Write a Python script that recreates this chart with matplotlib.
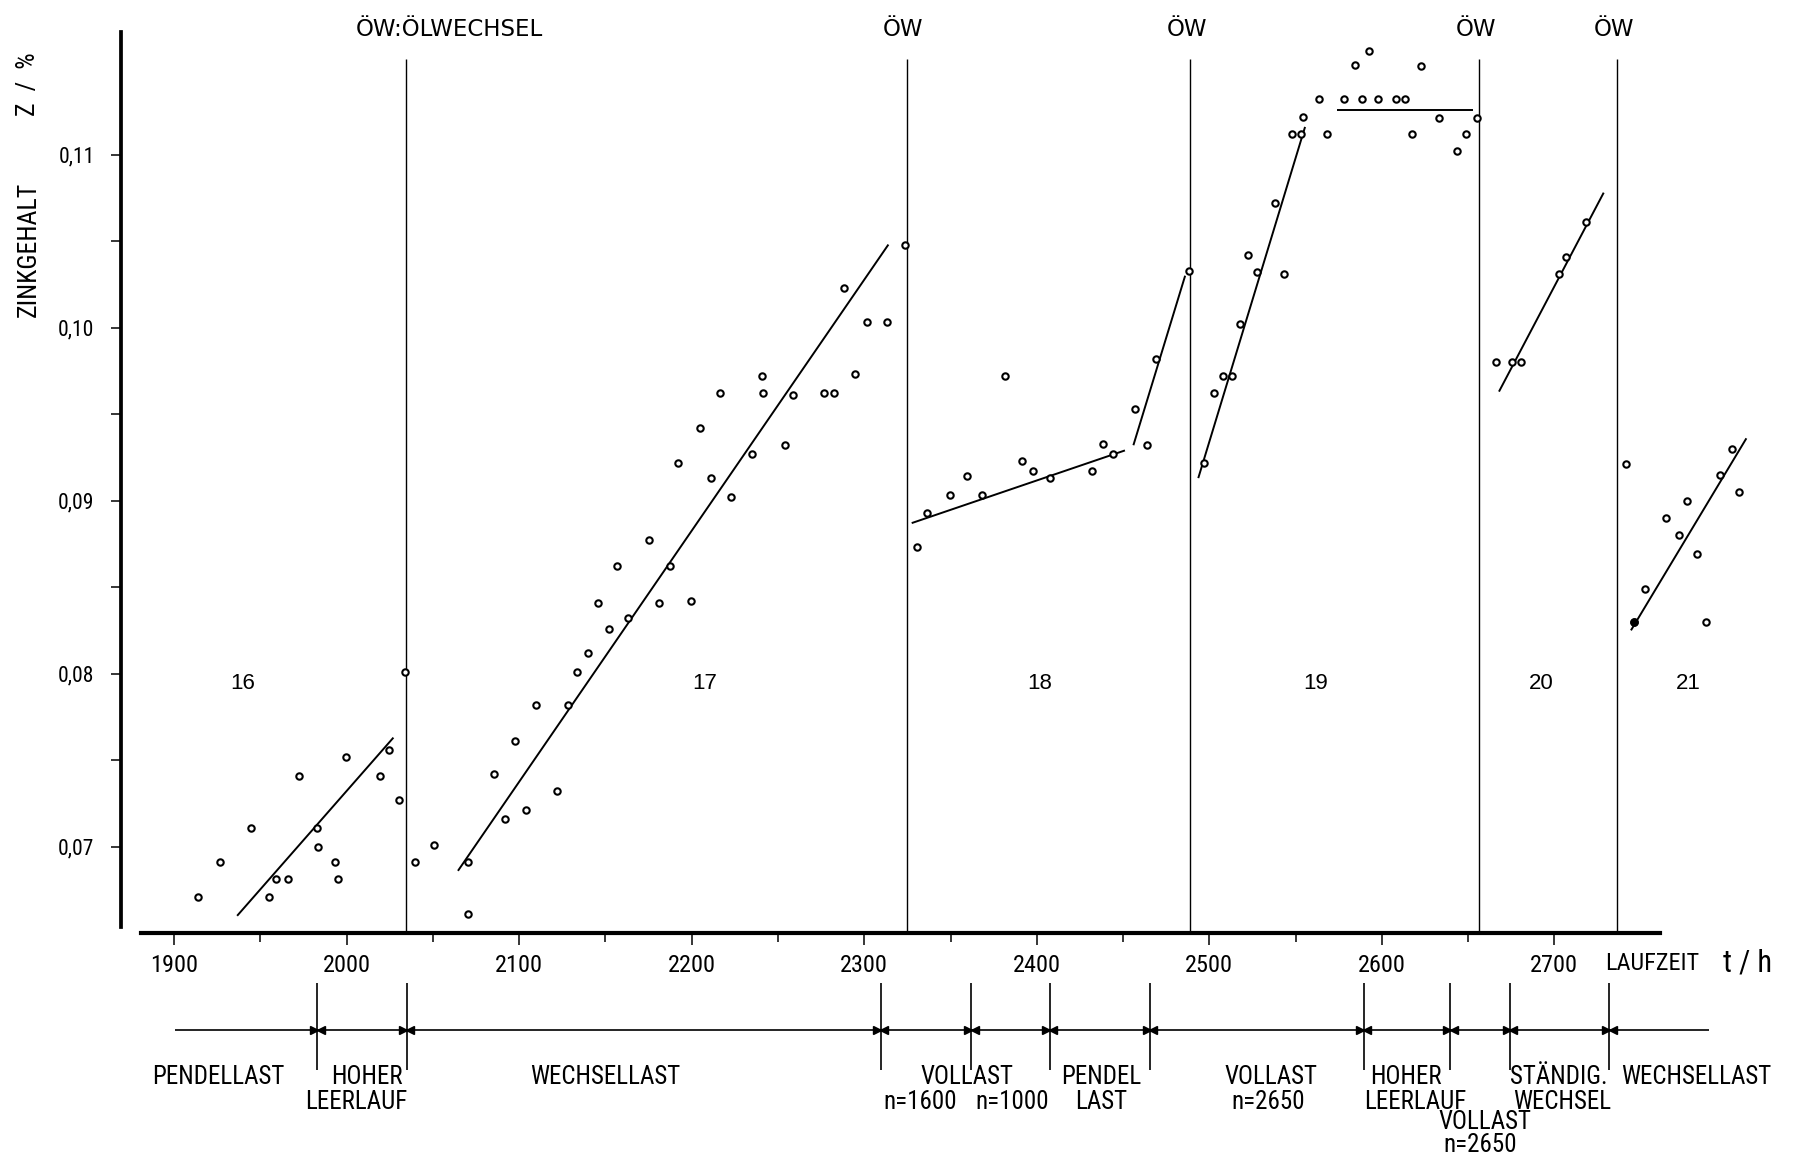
import matplotlib
matplotlib.use("Agg")
import matplotlib.pyplot as plt
from matplotlib import font_manager as fm
import numpy as np

# ---------------- data ----------------
# Laufzeit t / h and Zinkgehalt Z / % for the oil fillings 16 ... 21
t16 = [1913.8, 1926.5, 1944.4, 1954.8, 1959.0, 1966.2, 1972.4, 1982.8, 1983.4,
       1993.4, 1994.9, 1999.7, 2019.2, 2024.8, 2030.6, 2034.0]
z16 = [0.0671, 0.0691, 0.0711, 0.0671, 0.0681, 0.0681, 0.0741, 0.0711, 0.0700,
       0.0691, 0.0681, 0.0752, 0.0741, 0.0756, 0.0727, 0.0801]

t17 = [2039.8, 2050.8, 2070.2, 2070.4, 2085.6, 2092.0, 2097.4, 2104.1, 2109.7,
       2121.9, 2128.1, 2133.3, 2139.9, 2145.9, 2151.9, 2156.7, 2162.9, 2175.2,
       2180.8, 2187.2, 2192.2, 2199.4, 2205.0, 2211.2, 2216.4, 2222.6, 2235.1,
       2240.9, 2241.1, 2253.9, 2258.5, 2276.7, 2282.3, 2288.5, 2294.9, 2301.8,
       2313.0, 2323.6]
z17 = [0.0691, 0.0701, 0.0691, 0.0661, 0.0742, 0.0716, 0.0761, 0.0721, 0.0782,
       0.0732, 0.0782, 0.0801, 0.0812, 0.0841, 0.0826, 0.0862, 0.0832, 0.0877,
       0.0841, 0.0862, 0.0922, 0.0842, 0.0942, 0.0913, 0.0962, 0.0902, 0.0927,
       0.0972, 0.0962, 0.0932, 0.0961, 0.0962, 0.0962, 0.1023, 0.0973, 0.1003,
       0.1003, 0.1048]

t18 = [2330.4, 2336.5, 2349.5, 2359.8, 2368.1, 2381.8, 2391.6, 2398.0, 2407.8,
       2432.2, 2438.4, 2444.4, 2457.1, 2463.6, 2469.0, 2488.0]
z18 = [0.0873, 0.0893, 0.0903, 0.0914, 0.0903, 0.0972, 0.0923, 0.0917, 0.0913,
       0.0917, 0.0933, 0.0927, 0.0953, 0.0932, 0.0982, 0.1033]

t19 = [2496.9, 2502.7, 2507.7, 2513.0, 2517.8, 2522.6, 2527.5, 2537.9, 2543.1,
       2547.9, 2552.9, 2554.1, 2563.6, 2568.0, 2578.1, 2584.3, 2588.3, 2592.4,
       2597.8, 2608.0, 2613.4, 2617.5, 2622.5, 2632.9, 2643.4, 2648.8, 2655.0]
z19 = [0.0922, 0.0962, 0.0972, 0.0972, 0.1002, 0.1042, 0.1032, 0.1072, 0.1031,
       0.1112, 0.1112, 0.1122, 0.1132, 0.1112, 0.1132, 0.1152, 0.1132, 0.1160,
       0.1132, 0.1132, 0.1132, 0.1112, 0.1151, 0.1121, 0.1102, 0.1112, 0.1121]

t20 = [2666.2, 2675.6, 2680.7, 2702.7, 2706.6, 2718.1]
z20 = [0.0980, 0.0980, 0.0980, 0.1031, 0.1041, 0.1061]

t21 = [2741.4, 2746.4, 2752.3, 2764.5, 2772.1, 2776.9, 2782.7, 2788.1, 2796.2,
       2803.0, 2807.0]
z21 = [0.0921, 0.0830, 0.0849, 0.0890, 0.0880, 0.0900, 0.0869, 0.0830, 0.0915,
       0.0930, 0.0905]
# the one point drawn filled in the original (start of filling 21)
t21_filled = [2746.4]
z21_filled = [0.0830]

# hand-drawn trend lines (end points)
fit_t = [[1936.5, 2027.1], [2064.5, 2314.0], [2327.5, 2451.1], [2456.0, 2486.0],
         [2493.6, 2555.5], [2573.8, 2652.6], [2667.9, 2728.6], [2744.4, 2811.3]]
fit_z = [[0.0660, 0.0763], [0.0686, 0.1048], [0.0887, 0.0929], [0.0932, 0.1030],
         [0.0913, 0.1116], [0.1126, 0.1126], [0.0963, 0.1078], [0.0825, 0.0936]]

# oil changes (ÖW)
oew_t = [2034.6, 2324.5, 2489.0, 2656.5, 2736.4]

# filling numbers
fill_names = ["16", "17", "18", "19", "20", "21"]
fill_t = [1940.0, 2207.5, 2401.5, 2561.7, 2692.5, 2777.8]

# load phases (boundaries in h)
phase_bounds = [1983.0, 2034.8, 2309.6, 2362.0, 2407.5, 2465.6, 2589.4,
                2639.7, 2674.3, 2731.7]
phase_start, phase_end = 1900.6, 2789.8
phase_texts = ["PENDELLAST", "HOHER", "LEERLAUF", "WECHSELLAST", "VOLLAST",
               "n=1600", "n=1000", "PENDEL", "LAST", "VOLLAST", "n=2650",
               "HOHER", "LEERLAUF", "VOLLAST", "n=2650", "STÄNDIG.", "WECHSEL",
               "WECHSELLAST"]
phase_text_t = [1925.6, 2011.5, 2005.8, 2150.0, 2359.4, 2332.3, 2385.6, 2437.3,
                2437.1, 2535.5, 2534.1, 2613.9, 2619.3, 2659.8, 2657.2, 2702.6,
                2704.4, 2782.1]
phase_text_row = [1, 1, 2, 1, 1, 2, 2, 1, 2, 1, 2, 1, 2, 3, 4, 1, 2, 1]

x_major = [1900, 2000, 2100, 2200, 2300, 2400, 2500, 2600, 2700]
x_minor = [1950, 2050, 2150, 2250, 2350, 2450, 2550, 2650]
y_ticks = [0.070, 0.075, 0.080, 0.085, 0.090, 0.095, 0.100, 0.105, 0.110]
y_labels = {0.07: "0,07", 0.08: "0,08", 0.09: "0,09", 0.10: "0,10", 0.11: "0,11"}

# ---------------- fonts ----------------
names = {f.name for f in fm.fontManager.ttflist}
NARROW = None
for cand in ["Liberation Sans Narrow", "Roboto Condensed", "Open Sans Condensed",
             "DejaVu Sans Condensed"]:
    if cand in names:
        NARROW = cand
        break
if NARROW is None:
    NARROW = "Liberation Sans"
    NSCALE = 0.85
else:
    NSCALE = 1.0
NARROW_F = [NARROW, "DejaVu Sans"]
WIDE_F = ["DejaVu Sans"]

# ---------------- figure ----------------
W, H, DPI = 1794, 1156, 100
fig = plt.figure(figsize=(W / DPI, H / DPI), dpi=DPI)
fig.patch.set_facecolor("white")
ax = fig.add_axes([0, 0, 1, 1])
ax.set_xlim(1799.06, 2838.9)
ax.set_ylim(0.052116, 0.118936)
ax.patch.set_visible(False)

K = "black"
X_AXIS_Z = 0.06502
Y_AXIS_T = 1869.2

# spines
for s in ["top", "right"]:
    ax.spines[s].set_visible(False)
ax.spines["left"].set_position(("data", Y_AXIS_T))
ax.spines["left"].set_bounds(0.06537, 0.11707)
ax.spines["left"].set_linewidth(2.7)
ax.spines["bottom"].set_position(("data", X_AXIS_Z))
ax.spines["bottom"].set_bounds(1880.6, 2761.2)
ax.spines["bottom"].set_linewidth(3.0)

ax.set_xticks(x_major)
ax.set_xticklabels([str(v) for v in x_major])
ax.set_xticks(x_minor, minor=True)
ax.tick_params(axis="x", which="major", direction="out", length=8.5, width=1.1,
               pad=7, labelsize=17.5 * NSCALE, labelfontfamily=NARROW_F)
ax.tick_params(axis="x", which="minor", direction="out", length=6.5, width=1.1)
ax.set_yticks(y_ticks)
ax.set_yticklabels([y_labels.get(round(v, 3), "") for v in y_ticks])
ax.tick_params(axis="y", which="major", direction="out", length=7, width=1.1,
               pad=12, labelsize=15.5 * NSCALE, labelfontfamily=NARROW_F)

# oil change lines and labels
ax.vlines(oew_t, X_AXIS_Z, 0.11553, colors=K, linewidth=1.0)
Z_OEW = 0.11684
ax.text(2005.5, Z_OEW, "ÖW:ÖLWECHSEL", family=WIDE_F, fontsize=16.5,
        ha="left", va="baseline")
for t in oew_t[1:]:
    ax.text(t - 2, Z_OEW, "ÖW", family=WIDE_F, fontsize=16.5, ha="center",
            va="baseline")

# trend lines
for tt, zz in zip(fit_t, fit_z):
    ax.plot(tt, zz, color=K, linewidth=1.4, solid_capstyle="butt")

# measured points
for tt, zz in [(t16, z16), (t17, z17), (t18, z18), (t19, z19), (t20, z20),
               (t21, z21)]:
    ax.plot(tt, zz, linestyle="none", marker="o", markersize=4.6,
            markerfacecolor="white", markeredgecolor=K, markeredgewidth=1.5)
ax.plot(t21_filled, z21_filled, linestyle="none", marker="o", markersize=5.2,
        markerfacecolor=K, markeredgecolor=K, markeredgewidth=1.0)

# filling numbers
for name, t in zip(fill_names, fill_t):
    ax.text(t, 0.0794, name, family=["Liberation Sans", "DejaVu Sans"],
            fontsize=16, ha="center", va="center")

# axis titles
ax.text(1815.5, 0.10454, "ZINKGEHALT", family=NARROW_F, fontsize=18.6 * NSCALE,
        rotation=90, ha="center", va="center")
ax.text(1815.5, 0.11408, "Z  /  %", family=NARROW_F, fontsize=18.6 * NSCALE,
        rotation=90, ha="center", va="center")
ax.text(2756.5, 0.06327, "LAUFZEIT", family=NARROW_F, fontsize=17.5 * NSCALE,
        ha="center", va="center")
ax.text(2812.0, 0.06327, "t / h", family=NARROW_F, fontsize=22 * NSCALE,
        ha="center", va="center")

# load phase bar
Z_LINE = 0.05940
ax.hlines(Z_LINE, phase_start, phase_end, colors=K, linewidth=1.2)
ax.vlines(phase_bounds, 0.05709, 0.06212, colors=K, linewidth=1.2)
pb = np.array(phase_bounds)
ax.plot(pb - 2.0, [Z_LINE] * len(pb), linestyle="none", marker=">",
        markersize=5.5, color=K)
ax.plot(pb + 2.0, [Z_LINE] * len(pb), linestyle="none", marker="<",
        markersize=5.5, color=K)
row_z = {1: 0.05671, 2: 0.05525, 3: 0.05410, 4: 0.05275}
for txt, t, r in zip(phase_texts, phase_text_t, phase_text_row):
    ax.text(t, row_z[r], txt, family=NARROW_F, fontsize=18 * NSCALE,
            ha="center", va="center")

fig.savefig("out.png", dpi=DPI, facecolor="white")
